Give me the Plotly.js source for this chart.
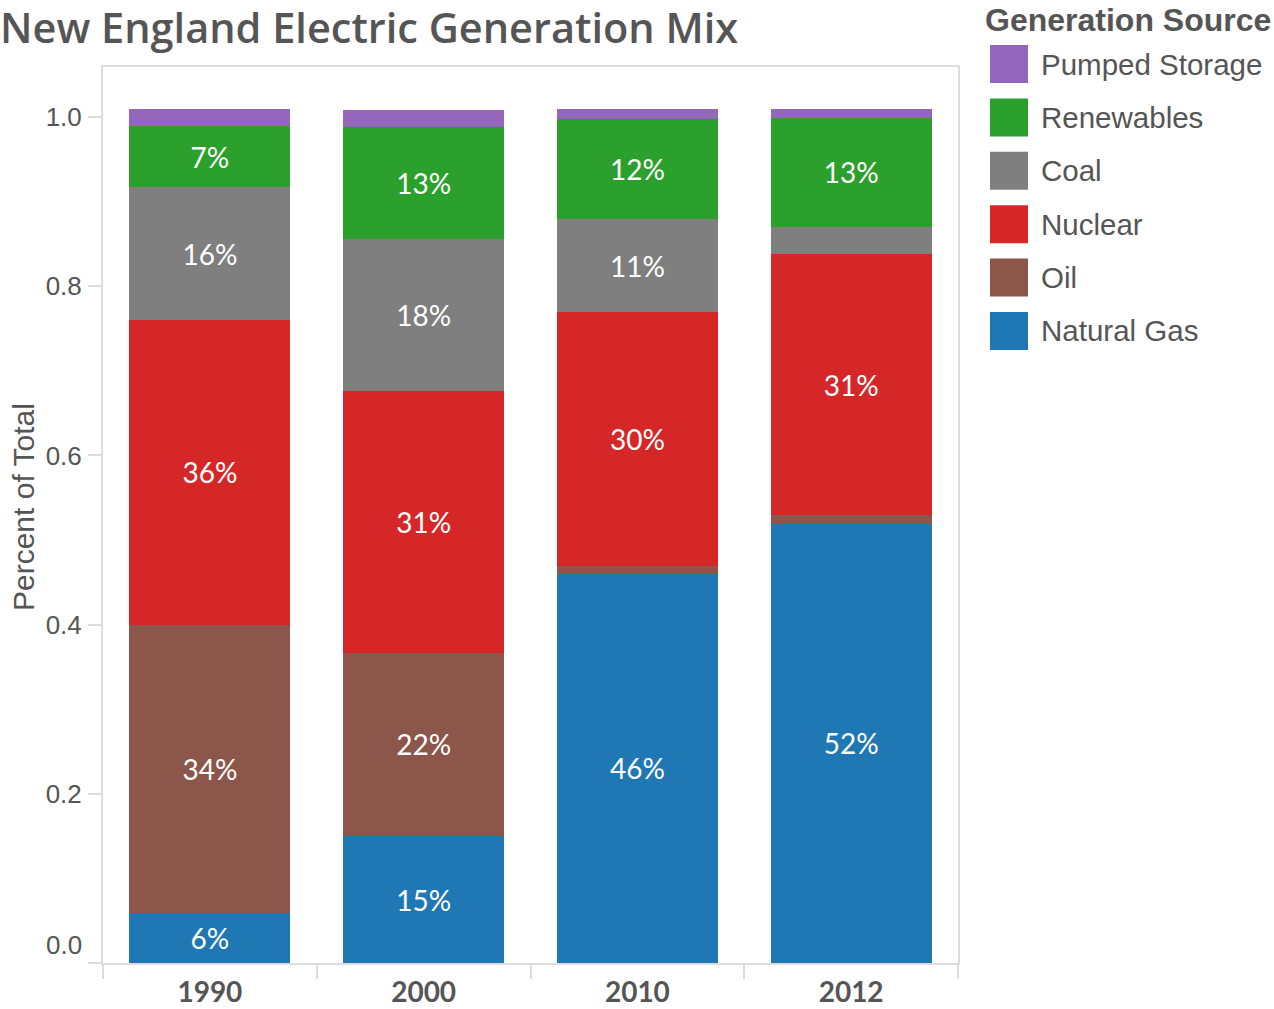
<!DOCTYPE html>
<html>
<head>
<meta charset="utf-8">
<script src="https://cdn.plot.ly/plotly-3.0.1.min.js"></script>
<style>html,body{margin:0;padding:0;background:#fff;}#chart{width:1274px;height:1009px;}</style>
</head>
<body>
<div id="chart"></div>
<script>
// ---- data ----
const years = ['1990', '2000', '2010', '2012'];
const sources = ['Natural Gas', 'Oil', 'Nuclear', 'Coal', 'Renewables', 'Pumped Storage'];
const naturalGas    = [0.059, 0.150, 0.460, 0.519];
const oil           = [0.341, 0.217, 0.009, 0.010];
const nuclear       = [0.360, 0.309, 0.300, 0.309];
const coal          = [0.157, 0.180, 0.110, 0.032];
const renewables    = [0.072, 0.132, 0.119, 0.129];
const pumpedStorage = [0.020, 0.020, 0.011, 0.011];
const yTickVals = [0, 0.2, 0.4, 0.6, 0.8, 1.0];
const yTickText = ['0.0', '0.2', '0.4', '0.6', '0.8', '1.0'];

const seriesValues = [naturalGas, oil, nuclear, coal, renewables, pumpedStorage];
const colors = ['#1f77b4', '#8c564b', '#d62728', '#7f7f7f', '#2ca02c', '#9467bd'];

const W = 1274, H = 1009;
const M = {l: 103, r: 316, t: 67, b: 46};
const PW = W - M.l - M.r, PH = H - M.t - M.b;
const px = x => (x - M.l) / PW;
const py = y => (H - M.b - y) / PH;

const traces = sources.map((name, i) => ({
  type: 'bar',
  name: name,
  x: years,
  y: seriesValues[i],
  marker: {color: colors[i], line: {width: 0}},
  text: seriesValues[i].map(v => v >= 0.05 ? Math.round(v * 100) + '%' : ''),
  textposition: 'inside',
  insidetextanchor: 'middle',
  textangle: 0,
  constraintext: 'none',
  textfont: {family: 'Lato, sans-serif', size: 28, color: '#ffffff'},
  hoverinfo: 'skip',
  showlegend: false
}));

const gray = '#555555';
const sans = 'Liberation Sans, Arial, sans-serif';
const annotations = [];
const shapes = [];

// flushed 0.0 label
annotations.push({
  xref: 'paper', yref: 'y', x: 0, y: 0, xanchor: 'right', yanchor: 'middle',
  xshift: -19, yshift: 18, showarrow: false, text: '0.0',
  font: {family: sans, size: 26, color: gray}
});

// y axis title
annotations.push({
  xref: 'paper', yref: 'paper', x: px(23), y: py(507), xanchor: 'center', yanchor: 'middle',
  textangle: -90, showarrow: false, text: 'Percent of Total',
  font: {family: sans, size: 30, color: gray}
});

// legend
annotations.push({
  xref: 'paper', yref: 'paper', x: px(983), y: py(20), xanchor: 'left', yanchor: 'middle',
  showarrow: false, text: '<b>Generation Source</b>',
  font: {family: sans, size: 32, color: gray}
});
const legendOrder = [5, 4, 3, 2, 1, 0];
legendOrder.forEach((si, k) => {
  const top = 45 + k * 53.4;
  shapes.push({
    type: 'rect', xref: 'paper', yref: 'paper',
    x0: px(990), x1: px(1028), y0: py(top + 38), y1: py(top),
    fillcolor: colors[si], line: {width: 0}
  });
  annotations.push({
    xref: 'paper', yref: 'paper', x: px(1039), y: py(top + 19), xanchor: 'left', yanchor: 'middle',
    showarrow: false, text: sources[si],
    font: {family: sans, size: 29.5, color: gray}
  });
});

const layout = {
  width: W, height: H,
  margin: M,
  paper_bgcolor: '#ffffff', plot_bgcolor: '#ffffff',
  barmode: 'stack',
  bargap: 0.247,
  showlegend: false,
  title: {
    text: 'New England Electric Generation Mix',
    xref: 'container', yref: 'container', x: 0, xanchor: 'left',
    y: 1 - 28 / H, yanchor: 'middle', pad: {l: 0},
    font: {family: 'Open Sans, sans-serif', size: 41.5, weight: 600, color: gray}
  },
  xaxis: {
    type: 'category',
    tickson: 'boundaries',
    ticks: 'outside', ticklen: 14, tickwidth: 2, tickcolor: '#dddddd',
    showline: true, linecolor: '#dddddd', linewidth: 2, mirror: true,
    showgrid: false, zeroline: false,
    tickfont: {family: 'Lato, sans-serif', size: 28, weight: 700, color: gray},
    ticklabelstandoff: 3,
    fixedrange: true
  },
  yaxis: {
    range: [0, (H - M.b - M.t) / 846],
    tickvals: yTickVals,
    ticktext: yTickText.map((t, i) => i === 0 ? '' : t),
    ticks: 'outside', ticklen: 13, tickwidth: 2, tickcolor: '#dddddd',
    showline: true, linecolor: '#dddddd', linewidth: 2, mirror: true,
    showgrid: false, zeroline: false,
    tickfont: {family: sans, size: 26, color: gray},
    ticklabelstandoff: 1,
    fixedrange: true
  },
  annotations: annotations,
  shapes: shapes
};

Plotly.newPlot('chart', traces, layout, {displayModeBar: false, staticPlot: true});
</script>
</body>
</html>
